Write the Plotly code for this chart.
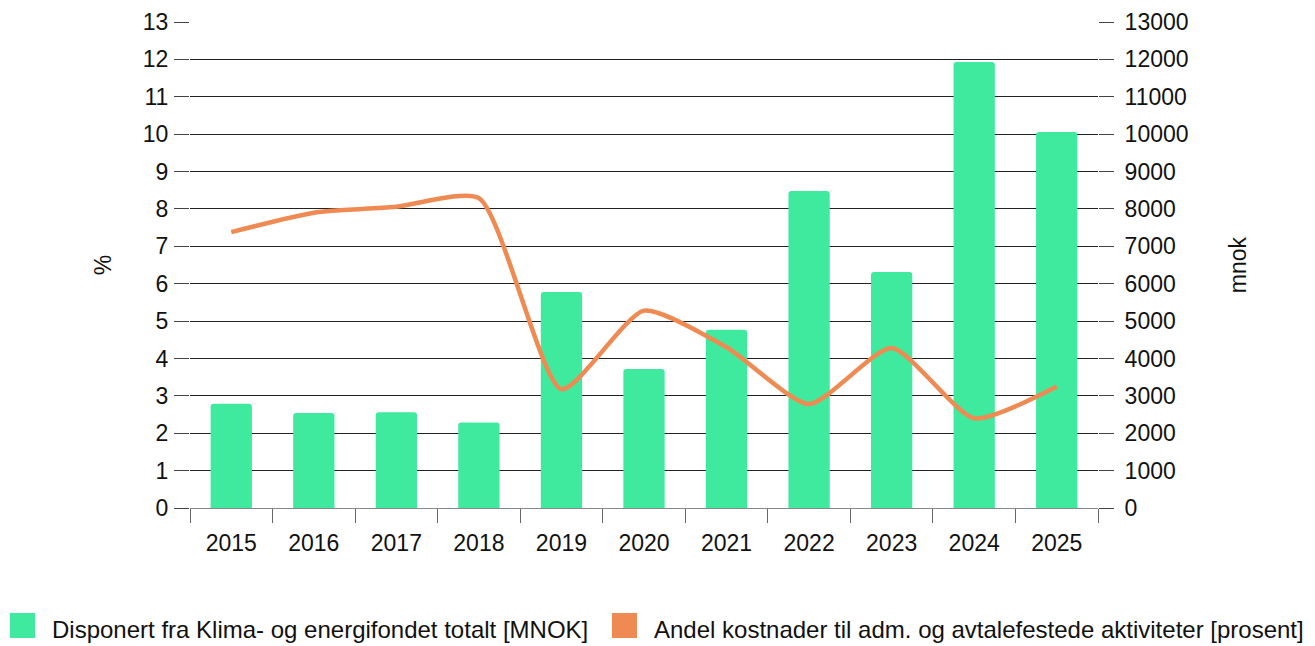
import plotly.graph_objects as go

years = ["2015", "2016", "2017", "2018", "2019", "2020", "2021", "2022", "2023", "2024", "2025"]
disponert_mnok = [2790, 2540, 2560, 2290, 5780, 3720, 4770, 8480, 6310, 11930, 10060]
andel_prosent = [7.38, 7.90, 8.06, 8.29, 3.18, 5.28, 4.30, 2.78, 4.28, 2.40, 3.25]

bar_name = "Disponert fra Klima- og energifondet totalt [MNOK]"
line_name = "Andel kostnader til adm. og avtalefestede aktiviteter [prosent]"

GREEN = "#3FEA9F"
ORANGE = "#EE8A52"
FONT = "Liberation Sans, Arial, sans-serif"

# page body has an 8px margin; figure coordinates are page coordinates - 8
OFF = 8
W, H = 1315 - OFF, 646 - OFF
L, R, T, B = 190 - OFF, 217, 22 - OFF, 138
PW, PH = W - L - R, H - T - B


def fx(px):
    return (px - OFF - L) / PW


def fy(py):
    return (H - B - (py - OFF)) / PH


fig = go.Figure()
fig.add_trace(go.Bar(
    x=years, y=disponert_mnok, name=bar_name, marker_color=GREEN,
    marker_line_width=0, yaxis="y", showlegend=False,
))
fig.add_trace(go.Scatter(
    x=years, y=andel_prosent, name=line_name, mode="lines",
    line=dict(color=ORANGE, width=4.5, shape="spline", smoothing=0.6),
    yaxis="y2", showlegend=False,
))

tickfont = dict(family=FONT, size=23, color="#111")

fig.update_layout(
    width=W, height=H,
    margin=dict(l=L, r=R, t=T, b=B, autoexpand=False),
    paper_bgcolor="white", plot_bgcolor="white",
    font=dict(family=FONT, size=23, color="#111"),
    bargap=0.5,
    barcornerradius=3,
    xaxis=dict(
        type="category", tickfont=tickfont,
        ticks="outside", tickson="boundaries", ticklen=14,
        tickcolor="#666", tickwidth=1, ticklabelstandoff=14,
        showline=True, linecolor="#888", linewidth=1,
        showgrid=False, zeroline=False,
    ),
    yaxis=dict(
        side="right", range=[0, 13000], dtick=1000, tick0=0, tickformat="d",
        tickfont=tickfont, ticks="outside", ticklen=15, tickcolor="#444",
        showgrid=True, gridcolor="#222", gridwidth=1, zeroline=False,
        ticklabelstandoff=6,
        title=dict(text="mnok", font=dict(family=FONT, size=23, color="#111"), standoff=42),
    ),
    yaxis2=dict(
        side="left", overlaying="y", range=[0, 13], dtick=1, tick0=0,
        tickfont=tickfont, ticks="outside", ticklen=15, tickcolor="#444",
        showgrid=False, zeroline=False, ticklabelstandoff=1,
        title=dict(text="%", font=dict(family=FONT, size=23, color="#111"), standoff=24),
    ),
)

# legend drawn as squares + labels below the chart
legend_items = [(bar_name, GREEN, 10), (line_name, ORANGE, 612)]
for name, color, px in legend_items:
    fig.add_shape(type="rect", xref="paper", yref="paper",
                  x0=fx(px), x1=fx(px + 25), y0=fy(638), y1=fy(613),
                  fillcolor=color, line_width=0)
    fig.add_annotation(text=name, xref="paper", yref="paper",
                       x=fx(px + 40), y=fy(629), xanchor="left", yanchor="middle",
                       showarrow=False, font=dict(family=FONT, size=24, color="#111"))

fig.write_html("out.html")
